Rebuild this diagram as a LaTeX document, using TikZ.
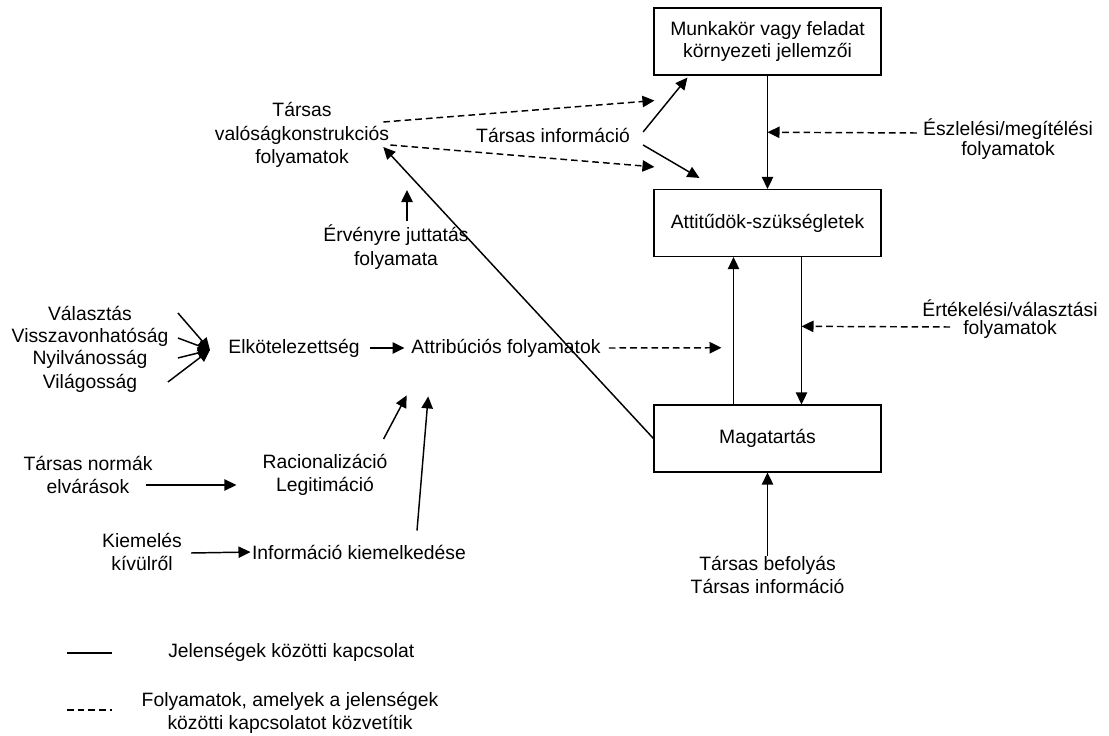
\documentclass[tikz,border=0pt]{standalone}
\usepackage{fontspec}
\setmainfont{Liberation Sans}
\usetikzlibrary{arrows.meta}
\usetikzlibrary{positioning}
\usetikzlibrary{calc}

\begin{document}
\begin{tikzpicture}[x=0.75pt,y=-0.75pt,
  lbl/.style={font=\fontsize{14.5}{17.5}\selectfont,align=center,inner sep=0pt},
  tight/.style={font=\fontsize{14.5}{13.5}\selectfont},
  box/.style={draw,line width=1.1pt,minimum width=170pt,minimum height=50pt,
    font=\fontsize{14.5}{16.5}\selectfont,align=center},
  rel/.style={line width=1.1pt,-{Triangle[length=9pt,width=8.5pt]}},
  proc/.style={rel,dash pattern=on 5pt off 3pt}]
\useasboundingbox (0,0) rectangle (1109,735);

\node[box] (job) at (767.5,41.5) {Munkakör vagy feladat\\környezeti jellemzői};
\node[box] (att) at (767.5,223) {Attitűdök-szükségletek};
\node[box] (beh) at (767.5,438.5) {Magatartás};

\node[lbl] (construct) at (302,135) {Társas\\valóságkonstrukciós\\folyamatok};
\node[lbl] (socinfo) at (553,135) {Társas információ};
\node[lbl,tight] (perc) at (1008,139) {Észlelési/megítélési\\folyamatok};
\node[lbl,tight] (eval) at (1010,319) {Értékelési/választási\\folyamatok};
\node[lbl] (erv) at (396,247) {Érvényre juttatás\\folyamata};

\node[lbl,text width=124pt] (valasztas) at (90,313) {Választás};
\node[lbl,text width=124pt] (vissza) at (90,337) {Visszavonhatóság};
\node[lbl,text width=124pt] (nyilv) at (90,359) {Nyilvánosság};
\node[lbl,text width=124pt] (vilag) at (90,383) {Világosság};
\coordinate (hub) at (210,350);

\node[lbl] (commit) at (294,348) {Elkötelezettség};
\node[lbl] (attr) at (506,348) {Attribúciós folyamatok};
\node[lbl] (racio) at (325,475) {Racionalizáció\\Legitimáció};
\node[lbl] (norms) at (88,475) {Társas normák\\elvárások};
\node[lbl] (kiem) at (142,552) {Kiemelés\\kívülről};
\node[lbl] (infok) at (359,552) {Információ kiemelkedése};
\node[lbl] (influence) at (767.5,575) {Társas befolyás\\Társas információ};

\coordinate (percin) at ($(job.south)!0.5!(att.north)$);
\coordinate (dnA) at ($(att.south)+(34,0)$);
\coordinate (dnB) at ($(beh.north)+(34,0)$);
\coordinate (upA) at ($(beh.north)+(-34,0)$);
\coordinate (upB) at ($(att.south)+(-34,0)$);
\coordinate (ervtip) at (407,190);

\draw[proc] ($(construct.east)+(-6,-13)$) -- ($(job.south west)+(1,25)$);
\draw[proc] ($(construct.east)+(1,10)$) -- ($(att.north west)+(1,-22)$);
\draw[rel] ($(socinfo.east)+(13,-3)$) -- ($(job.south west)+(34,2)$);
\draw[rel] ($(socinfo.east)+(13,10)$) -- ($(att.north west)+(46,-11)$);
\draw[rel] (job) -- (att);
\draw[proc] ($(perc.west)+(-6,-6)$) -- (percin);
\draw[rel] (dnA) -- (dnB);
\draw[rel] (upA) -- (upB);
\draw[proc] ($(eval.west)+(28,8)$) -- ($(dnA)!0.47!(dnB)$);
\draw[proc,shorten >=9pt] ($(attr.east)+(8,0)$) -- ($(upA)!0.385!(upB)$);
\draw[rel] (influence) -- (beh);
\draw[rel] (beh.west) -- ($(construct.east)+(-6,12)$);
\draw[rel,shorten <=3pt] (erv.north -| ervtip) -- (ervtip);

\draw[rel] ($(valasztas.east)+(5,0)$) -- (hub);
\draw[rel] ($(vissza.east)+(5,1)$) -- (hub);
\draw[rel] ($(nyilv.east)+(5,-1)$) -- (hub);
\draw[rel] ($(vilag.east)+(-5,-1)$) -- (hub);

\draw[rel,shorten >=5pt] ($(commit.east)+(10,0)$) -- (attr.west);
\draw[rel] ($(racio.north east)+(-4,-15)$) -- ($(attr.south west)+(-4.5,38)$);
\draw[rel] ($(infok.north)+(58,-14)$) -- ($(attr.south west)+(17,39)$);
\draw[rel] ($(norms.east)+(-7,10)$) -- ($(racio.west)+(-26,10)$);
\draw[rel,shorten >=1pt] ($(kiem.east)+(9,1)$) -- (infok.west);

% legend
\coordinate (solidA) at (67,653);
\coordinate (solidB) at (112,653);
\coordinate (dashA) at (67,710);
\coordinate (dashB) at (112,710);
\draw[line width=1.1pt] (solidA) -- (solidB);
\draw[line width=1.1pt,dash pattern=on 5pt off 3pt] (dashA) -- (dashB);
\node[lbl,anchor=west] (solidtxt) at (168,652) {Jelenségek közötti kapcsolat};
\node[lbl] (dashtxt) at (290,713) {Folyamatok, amelyek a jelenségek\\közötti kapcsolatot közvetítik};

\end{tikzpicture}
\end{document}
